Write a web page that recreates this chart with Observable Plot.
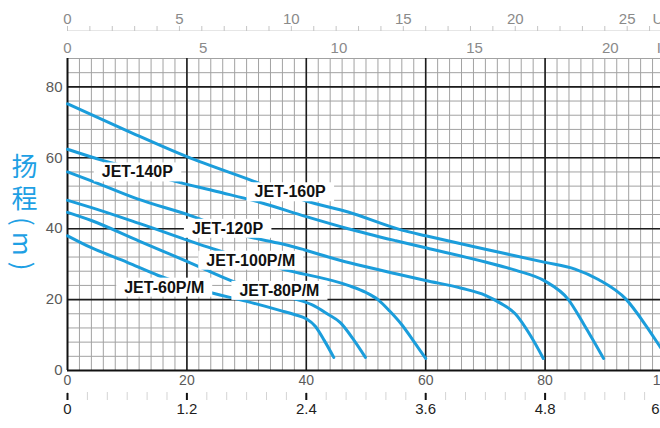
<!DOCTYPE html>
<html><head><meta charset="utf-8">
<script src="https://cdn.jsdelivr.net/npm/d3@7"></script>
<script src="https://cdn.jsdelivr.net/npm/@observablehq/plot@0.6"></script>
<style>
html,body{margin:0;padding:0;background:#fff;overflow:hidden;}
#wrap{position:relative;width:660px;height:428px;overflow:hidden;}
#ylab{position:absolute;left:11px;top:153px;writing-mode:vertical-rl;font-family:"Noto Sans CJK SC",sans-serif;font-size:26px;color:#1ea0e4;letter-spacing:6px;line-height:1;z-index:2;}
</style></head><body>
<div id="wrap"><div id="ylab">扬程(m)</div></div>
<script>
// Series: flow (L/min) and head (m)
const models = ["JET-160P","JET-140P","JET-120P","JET-100P/M","JET-80P/M","JET-60P/M"];
const flow160 = [0,10,20,31,40,47,56,60,70,80,85,89,93.5,97,99.3,100.6];
const head160 = [75.2,67.6,60.3,53.5,47.8,44.7,39.6,38,34.2,30.5,28.6,25.6,20.2,12.4,6.6,3.4];
const flow140 = [0,6,11,17.3,25,32.3,40,47,55,60,70,75,80,83.8,86.5,89.8];
const head140 = [62.4,59.2,57,53.7,50.5,47.4,43.4,40,36.6,34.6,30.6,28.3,25.2,20.2,13,3.4];
const flow120 = [0,4,11.7,20.6,30.2,35.7,47.4,55,60,66,70,72.5,75,77.5,79.7];
const head120 = [56,53.5,48.4,43.7,37.8,35.8,30.3,27.3,25.4,23.2,21.2,19,16,10,3.4];
const flow100 = [0,3.9,12,25,36,47,50,52,54,56,58,60];
const head100 = [48,46,41.5,34,28.6,24,22,20,16.7,12.9,8.2,3.4];
const flow80 = [0,4,12,20,28.4,35,38,41,43.5,45.7,48,49.9];
const head80 = [44.6,42.3,36.5,30.8,24.7,21.5,20.2,18.5,16,13.5,8.5,3.7];
const flow60 = [0,3.9,10,15.2,22.8,30,35.7,38,40,41.5,43,44.6];
const head60 = [38,34.7,30.5,26.8,22.5,19.5,16.9,15.8,14.6,12.5,8.5,3.7];

// Curve label anchors (flow, head)
const labelText = ["JET-140P","JET-160P","JET-120P","JET-100P/M","JET-60P/M","JET-80P/M"];
const labelFlow = [11.7,37.3,26.8,30.7,16.2,35.5];
const labelHead = [55.9,50.3,40,31,23.4,22.5];

// Tick labels
const headTicks = [0,20,40,60,80];
const lpmTicks = [0,20,40,60,80,100];
const m3hTicks = [0,1.2,2.4,3.6,4.8,6];
const usgpmTicks = [0,5,10,15,20,25];
const impgpmTicks = [0,5,10,15,20];

const flows = [flow160,flow140,flow120,flow100,flow80,flow60];
const heads = [head160,head140,head120,head100,head80,head60];
const curves = models.flatMap((m,i) => flows[i].map((f,j) => ({model:m, flow:f, head:heads[i][j]})));
const labels = labelText.map((t,i) => ({text:t, flow:labelFlow[i], head:labelHead[i]}));

// helpers for decorations outside the frame
const Y0 = 370, YT = 58, HMAX = 88;
const pxToY = px => (Y0 - px) * HMAX / (Y0 - YT);
const USG = 3.75, IMPG = 4.546, M3H = 1000/60;
const font = "Liberation Sans, Arial, sans-serif";
const narrow = "Liberation Sans Narrow, Liberation Sans, Arial, sans-serif";
const m3hMain = m3hTicks.slice(0, -1), m3hLast = m3hTicks.slice(-1);

const plot = Plot.plot({
  width: 660, height: 428,
  marginLeft: 67, marginRight: 0, marginTop: YT, marginBottom: 428 - Y0,
  x: {domain: [0, 99.33], axis: null},
  y: {domain: [0, HMAX], axis: null},
  style: {fontFamily: font, background: "#fff", overflow: "visible"},
  marks: [
    Plot.ruleX(d3.range(0, 101, 2), {stroke: "#a2a2a2", strokeWidth: 1}),
    Plot.ruleY(d3.range(0, 89, 4), {stroke: "#a2a2a2", strokeWidth: 1}),
    Plot.ruleX([20,40,60,80,100], {stroke: "#1c1c1c", strokeWidth: 1.6}),
    Plot.ruleY([20,40,60,80], {stroke: "#1c1c1c", strokeWidth: 1.6}),
    Plot.ruleX([0], {stroke: "#111", strokeWidth: 2}),
    Plot.ruleY([0], {stroke: "#111", strokeWidth: 2}),
    Plot.line(curves, {x: "flow", y: "head", z: "model", stroke: "#1b9ddb", strokeWidth: 3, curve: "monotone-x"}),
    Plot.text(labels, {x: "flow", y: "head", text: "text", fontSize: 16, fontWeight: "bold", fill: "#111", fontFamily: font}),
    // left head axis labels
    Plot.text(headTicks, {y: d => d, frameAnchor: "left", dx: -5, textAnchor: "end", text: d => String(d), fontSize: 15, fill: "#5a5a5a"}),
    // bottom L/min labels
    Plot.text(lpmTicks, {x: d => d, frameAnchor: "bottom", dy: 14, text: d => String(d), fontSize: 14, fill: "#5a5a5a"}),
    // m3/h axis
    Plot.ruleX(d3.range(0, 6.01, 0.2), {x: d => d * M3H, y1: pxToY(392), y2: pxToY(400), stroke: "#d4d4d4", strokeWidth: 1}),
    Plot.ruleX(m3hTicks, {x: d => d * M3H, y1: pxToY(393), y2: pxToY(400), stroke: "#111", strokeWidth: 2}),
    Plot.text(m3hMain, {x: d => d * M3H, frameAnchor: "bottom", dy: 43, text: d => String(d), fontSize: 15, fill: "#1e1e1e"}),
    Plot.text(m3hLast, {x: d => d * M3H, frameAnchor: "bottom", dy: 43, dx: -9, text: d => String(d), fontSize: 15, fill: "#1e1e1e"}),
    // US gpm axis (top)
    Plot.ruleY([pxToY(30)], {stroke: "#e6e6e6", strokeWidth: 1}),
    Plot.ruleX(d3.range(0, 27, 1), {x: d => d * USG, y1: pxToY(26), y2: pxToY(31), stroke: "#c4c4c4", strokeWidth: 1}),
    Plot.text(usgpmTicks, {x: d => d * USG, frameAnchor: "top", dy: -45, text: d => String(d), fontSize: 15, fill: "#8a8a8a", fontFamily: narrow}),
    Plot.text(["US"], {x: 98, frameAnchor: "top", dy: -45, text: d => d, textAnchor: "start", fontSize: 15, fill: "#8a8a8a", fontFamily: narrow}),
    // Imp gpm axis (top)
    Plot.text(impgpmTicks, {x: d => d * IMPG, frameAnchor: "top", dy: -16, text: d => String(d), fontSize: 15, fill: "#8a8a8a", fontFamily: narrow}),
    Plot.text(["I"], {x: 98.7, frameAnchor: "top", dy: -16, text: d => d, textAnchor: "start", fontSize: 15, fill: "#8a8a8a", fontFamily: narrow})
  ]
});
const wrap = document.getElementById("wrap");
wrap.appendChild(plot);
plot.style.maxWidth = "none";
plot.style.display = "block";
// white boxes behind curve labels (sized from the rendered text)
const base = plot.getBoundingClientRect();
const names = new Set(labelText);
plot.querySelectorAll("text").forEach(t => {
  if (!names.has(t.textContent)) return;
  const b = t.getBoundingClientRect();
  const r = document.createElementNS("http://www.w3.org/2000/svg", "rect");
  r.setAttribute("x", b.left - base.left - 8);
  r.setAttribute("y", b.top - base.top - 1);
  r.setAttribute("width", b.width + 16);
  r.setAttribute("height", b.height + 2);
  r.setAttribute("fill", "#fff");
  const g = t.parentNode;
  g.parentNode.insertBefore(r, g);
});
</script>
</body></html>
